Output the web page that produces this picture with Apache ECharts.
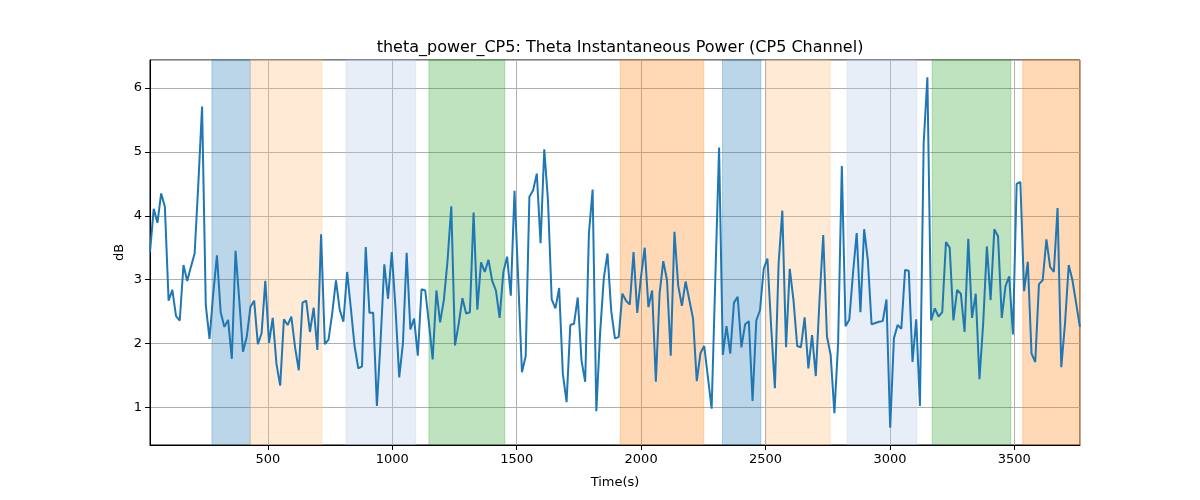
<!DOCTYPE html>
<html>
<head>
<meta charset="utf-8">
<script src="https://cdn.jsdelivr.net/npm/echarts@6/dist/echarts.min.js"></script>
<style>html,body{margin:0;padding:0;background:#fff;}#chart{width:1200px;height:500px;}</style>
</head>
<body>
<div id="chart"></div>
<script>
// Sampling grid (seconds)
const T0 = 26;
const DT = 14.95;
// Theta power values (dB)
const powerValues = [
3.43,4.11,3.89,4.35,4.14,2.67,2.84,2.43,2.36,3.23,2.98,3.20,3.41,4.51,5.71,2.60,2.07,2.78,3.38,2.49,
2.26,2.37,1.76,3.45,2.68,1.87,2.10,2.57,2.67,1.99,2.16,2.98,2.01,2.40,1.68,1.34,2.38,2.29,2.42,1.94,
1.58,2.64,2.67,2.18,2.56,1.90,3.71,1.99,2.06,2.48,2.99,2.53,2.34,3.12,2.55,1.96,1.61,1.64,3.51,2.48,
2.48,1.02,2.05,3.24,2.70,3.43,2.56,1.47,2.00,3.42,2.22,2.39,1.81,2.85,2.83,2.31,1.75,2.83,2.33,2.68,
3.30,4.15,1.97,2.31,2.71,2.47,2.49,
4.05,2.53,3.27,3.12,3.31,2.98,2.83,2.40,3.12,3.36,2.75,4.39,3.00,1.55,1.80,4.30,4.40,4.66,3.57,5.04,
4.24,2.69,2.55,2.87,1.52,1.08,2.29,2.31,2.72,1.74,1.40,3.72,4.41,0.94,2.15,3.02,3.41,2.51,2.08,2.10,
2.78,2.67,2.61,3.43,2.48,3.04,3.50,2.57,2.83,1.40,2.78,3.29,2.99,1.81,3.75,2.91,2.59,2.97,2.68,2.39,
1.41,1.85,1.96,1.47,0.98,3.04,5.07,1.82,2.27,1.84,2.64,2.73,1.94,2.30,2.35,1.10,2.36,2.52,3.17,3.33,
2.26,1.30,3.25,4.08,
1.94,3.17,2.68,1.96,1.94,2.41,1.61,2.13,1.49,2.68,3.70,2.11,1.82,0.91,2.00,4.78,2.27,2.37,3.10,3.73,
2.49,3.79,3.30,2.30,2.32,2.34,2.35,2.69,0.68,2.08,2.29,2.23,3.15,3.14,1.71,2.38,1.02,5.13,6.17,2.36,
2.55,2.42,2.49,3.59,3.50,2.36,2.84,2.78,2.18,3.64,2.40,2.78,1.44,2.31,3.52,2.68,3.79,3.68,2.40,2.90,
3.05,2.14,4.50,4.53,2.82,3.28,1.84,1.71,2.93,2.99,3.63,3.20,3.12,4.12,1.63,2.31,3.23,2.99,2.63,2.26
];
// Shaded intervals (seconds) and their colours
const spanStarts = [275, 429, 814, 1147, 1916, 2327, 2503, 2828, 3170, 3534];
const spanEnds   = [429, 717, 1094, 1452, 2252, 2481, 2760, 3108, 3486, 3765];
const spanColors = [
  'rgba(31,119,180,0.3)', 'rgba(255,187,120,0.3)', 'rgba(174,199,232,0.3)', 'rgba(44,160,44,0.3)',
  'rgba(255,127,14,0.3)', 'rgba(31,119,180,0.3)', 'rgba(255,187,120,0.3)', 'rgba(174,199,232,0.3)',
  'rgba(44,160,44,0.3)', 'rgba(255,127,14,0.3)'
];
const X_MIN = 26, X_MAX = 3764, Y_MIN = 0.41, Y_MAX = 6.44;

const lineData = powerValues.map((v, i) => [T0 + i * DT, v]);
const areas = spanStarts.map((s, i) => [
  { xAxis: s, itemStyle: { color: spanColors[i], borderColor: spanColors[i], borderWidth: 1 } },
  { xAxis: spanEnds[i] }
]);

const font = 'DejaVu Sans';
const plain = v => String(v);
const chart = echarts.init(document.getElementById('chart'), null, { renderer: 'canvas' });
chart.setOption({
  animation: false,
  backgroundColor: '#fff',
  title: {
    text: 'theta_power_CP5: Theta Instantaneous Power (CP5 Channel)',
    left: 615, top: 35, textAlign: 'center',
    textStyle: { fontFamily: font, fontSize: 16, fontWeight: 'normal', color: '#000' }
  },
  grid: { left: 150, right: 120, top: 60, bottom: 55, show: true, borderColor: '#000', borderWidth: 1, backgroundColor: 'transparent', z: 1 },
  xAxis: {
    type: 'value', min: X_MIN, max: X_MAX, splitNumber: 8, z: 1,
    name: 'Time(s)', nameLocation: 'middle', nameGap: 31,
    nameTextStyle: { fontFamily: font, fontSize: 13, color: '#000' },
    axisLine: { show: true, onZero: false, lineStyle: { color: '#000', width: 1 } },
    axisTick: { show: true, inside: false, length: 5, lineStyle: { color: '#000' } },
    axisLabel: { fontFamily: font, fontSize: 13, color: '#000', margin: 8, showMinLabel: false, showMaxLabel: false, formatter: plain },
    splitLine: { show: true, lineStyle: { color: '#b0b0b0', width: 1 } }
  },
  yAxis: {
    type: 'value', min: Y_MIN, max: Y_MAX, splitNumber: 6, z: 1,
    name: 'dB', nameLocation: 'middle', nameGap: 24, nameMoveOverlap: false,
    nameTextStyle: { fontFamily: font, fontSize: 13, color: '#000' },
    axisLine: { show: true, onZero: false, lineStyle: { color: '#000', width: 1 } },
    axisTick: { show: true, inside: false, length: 5, lineStyle: { color: '#000' } },
    axisLabel: { fontFamily: font, fontSize: 13, color: '#000', margin: 8, showMinLabel: false, showMaxLabel: false, formatter: plain },
    splitLine: { show: true, lineStyle: { color: '#b0b0b0', width: 1 } }
  },
  series: [
    {
      type: 'line', data: [], z: 0, silent: true,
      markArea: { silent: true, data: areas }
    },
    {
      type: 'line', data: lineData, z: 3, showSymbol: false, symbol: 'none',
      lineStyle: { color: '#1f77b4', width: 2 }, itemStyle: { color: '#1f77b4' }
    }
  ]
});
</script>
</body>
</html>
